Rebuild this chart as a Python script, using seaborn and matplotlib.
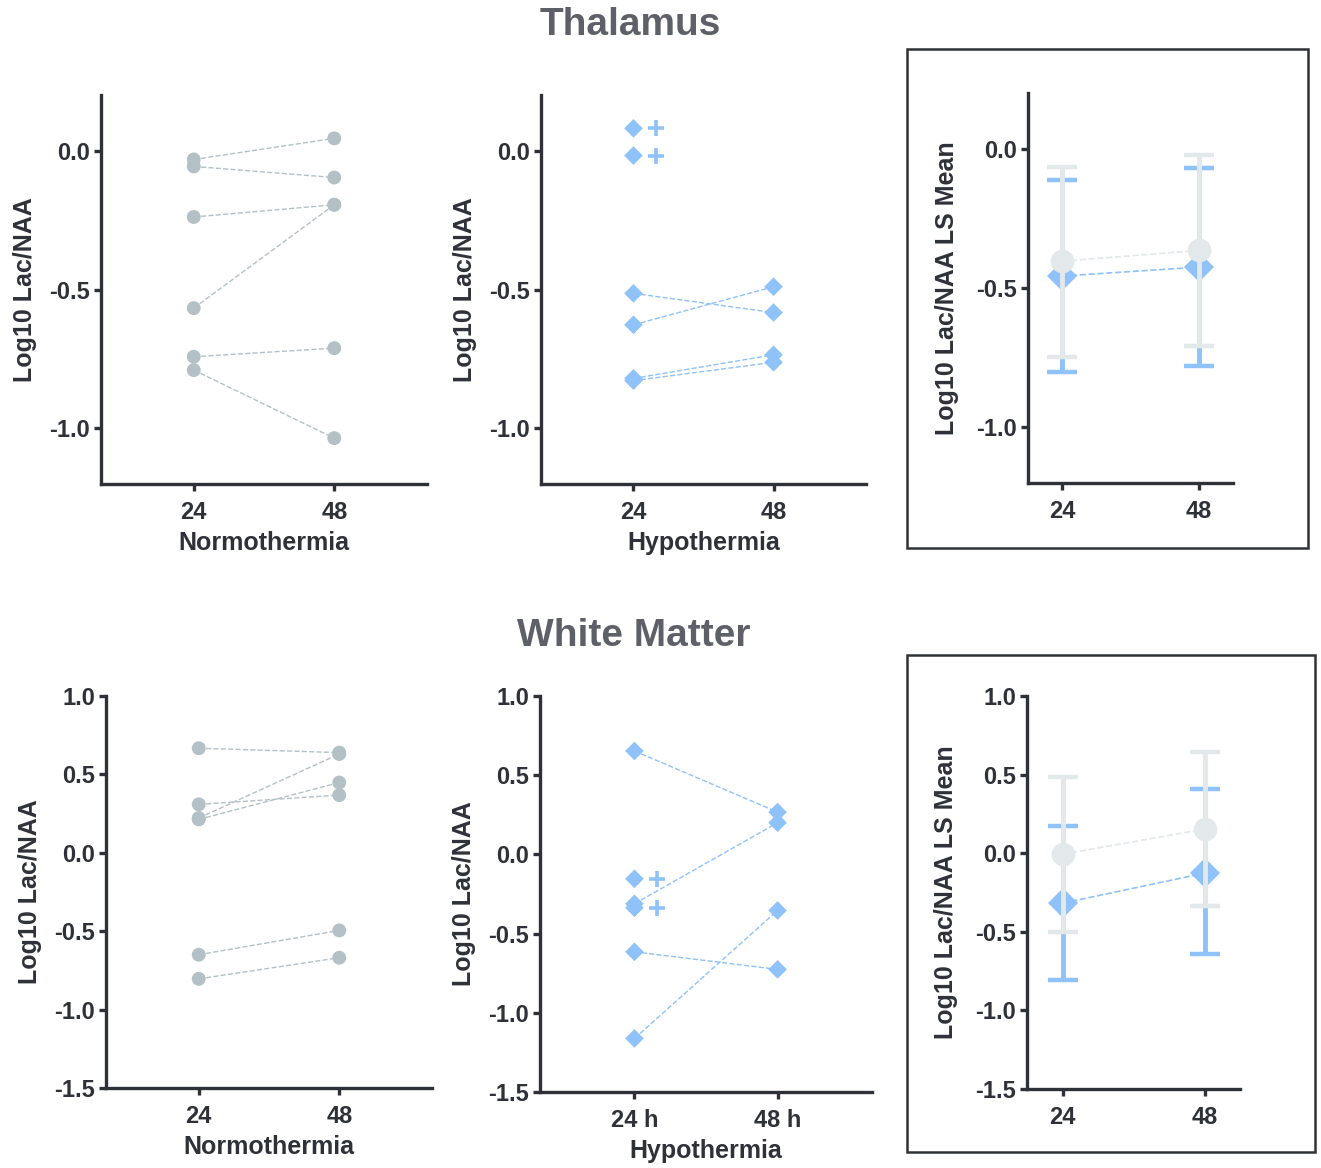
import matplotlib
matplotlib.use("Agg")
import matplotlib.pyplot as plt
import numpy as np
import pandas as pd
import seaborn as sns

# ---- data ----
timepoints = ["24", "48"]
timepoints_h = ["24 h", "48 h"]

# Thalamus, paired subjects
thal_normo_24 = [-0.032, -0.057, -0.239, -0.567, -0.742, -0.790]
thal_normo_48 = [0.044, -0.097, -0.195, -0.195, -0.711, -1.035]
thal_hypo_24 = [-0.514, -0.627, -0.820, -0.828]
thal_hypo_48 = [-0.583, -0.490, -0.735, -0.762]
thal_hypo_24_only = [0.080, -0.018]

# White matter, paired subjects
wm_normo_24 = [0.667, 0.309, 0.213, 0.222, -0.650, -0.804]
wm_normo_48 = [0.639, 0.368, 0.448, 0.630, -0.495, -0.669]
wm_hypo_24 = [0.653, -0.312, -0.615, -1.162]
wm_hypo_48 = [0.267, 0.200, -0.726, -0.354]
wm_hypo_24_only = [-0.154, -0.337]

# LS means with 95% CI
thal_normo_mean = [-0.404, -0.365]
thal_normo_lo = [-0.749, -0.708]
thal_normo_hi = [-0.064, -0.024]
thal_hypo_mean = [-0.457, -0.425]
thal_hypo_lo = [-0.801, -0.779]
thal_hypo_hi = [-0.113, -0.071]

wm_normo_mean = [-0.006, 0.153]
wm_normo_lo = [-0.499, -0.335]
wm_normo_hi = [0.482, 0.643]
wm_hypo_mean = [-0.318, -0.127]
wm_hypo_lo = [-0.809, -0.643]
wm_hypo_hi = [0.170, 0.407]

# ---- style ----
GREY = "#b3c1c6"
LIGHT = "#e3e8eb"
BLUE = "#8ec2f8"
DARK = "#2e3138"
TITLE = "#5d6066"

sns.set_style("ticks")
plt.rcParams["font.family"] = ["Liberation Sans", "DejaVu Sans"]
plt.rcParams["font.weight"] = "bold"
plt.rcParams["axes.unicode_minus"] = False

W, H = 1321, 1168
fig = plt.figure(figsize=(W / 100, H / 100), dpi=100)


def add_ax(x0, y0, x1, y1):
    # pixel box (top-left origin) -> figure fraction
    return fig.add_axes([x0 / W, 1 - y1 / H, (x1 - x0) / W, (y1 - y0) / H])


def paired_frame(v24, v48):
    n = len(v24)
    return pd.DataFrame({
        "subject": list(range(n)) * 2,
        "pos": [0] * n + [1] * n,
        "value": list(v24) + list(v48),
    })


def style_axis(ax, ylim, yticks, xlim, xlabels, xlabel, ylabel, labelpad):
    ax.set_xlim(*xlim)
    ax.set_ylim(*ylim)
    ax.set_yticks(yticks)
    ax.set_yticklabels([f"{t:.1f}" for t in yticks])
    ax.set_xticks([0, 1])
    ax.set_xticklabels(xlabels)
    sns.despine(ax=ax)
    for s in ["left", "bottom"]:
        ax.spines[s].set_linewidth(2.4)
        ax.spines[s].set_color(DARK)
    ax.tick_params(axis="both", width=2.4, length=5, color=DARK,
                   labelcolor=DARK, labelsize=17)
    ax.tick_params(axis="y", pad=3)
    ax.tick_params(axis="x", pad=7)
    ax.set_xlabel(xlabel, fontsize=18, fontweight="bold", color=DARK, labelpad=5)
    ax.set_ylabel(ylabel, fontsize=18, fontweight="bold", color=DARK, labelpad=labelpad)
    ax.set_facecolor("none")


def paired_panel(ax, v24, v48, color, marker, extra=None):
    df = paired_frame(v24, v48)
    sns.lineplot(data=df, x="pos", y="value", units="subject", estimator=None,
                 color=color, lw=1.0, ls="--", ax=ax, legend=False)
    ms = 100 if marker == "o" else 90
    sns.scatterplot(data=df, x="pos", y="value", color=color, marker=marker,
                    s=ms, edgecolor="none", ax=ax, legend=False, zorder=3)
    if extra is not None:
        ax.scatter([0] * len(extra), extra, color=color, marker=marker, s=ms,
                   edgecolor="none", zorder=3)
        ax.plot([0.16] * len(extra), extra, ls="none", marker="+", ms=11,
                mew=2.6, color=color)


def means_panel(ax, n_mean, n_lo, n_hi, h_mean, h_lo, h_hi):
    pos = [0, 1]
    h_err = [np.subtract(h_mean, h_lo), np.subtract(h_hi, h_mean)]
    n_err = [np.subtract(n_mean, n_lo), np.subtract(n_hi, n_mean)]
    ax.errorbar(pos, h_mean, yerr=h_err, fmt="none", ecolor=BLUE, elinewidth=3.5,
                capsize=11, capthick=3.2, zorder=2)
    hdf = pd.DataFrame({"pos": pos, "value": h_mean})
    sns.lineplot(data=hdf, x="pos", y="value", color=BLUE, lw=1.2, ls="--",
                 marker="D", markersize=15, markeredgewidth=0, ax=ax, zorder=3)
    ax.errorbar(pos, n_mean, yerr=n_err, fmt="none", ecolor=LIGHT, elinewidth=3.5,
                capsize=11, capthick=3.2, zorder=4)
    ndf = pd.DataFrame({"pos": pos, "value": n_mean})
    sns.lineplot(data=ndf, x="pos", y="value", color=LIGHT, lw=1.2, ls="--",
                 marker="o", markersize=17, markeredgewidth=0, ax=ax, zorder=5)


YLAB = "Log10 Lac/NAA"
YLAB_M = "Log10 Lac/NAA LS Mean"
thal_ticks = [0.0, -0.5, -1.0]
wm_ticks = [1.0, 0.5, 0.0, -0.5, -1.0, -1.5]

# ---- Thalamus row ----
ax = add_ax(101, 95, 427, 484)
paired_panel(ax, thal_normo_24, thal_normo_48, GREY, "o")
style_axis(ax, (-1.2, 0.2), thal_ticks, (-0.66, 1.66), timepoints,
           "Normothermia", YLAB, 9)

ax = add_ax(541, 95, 866, 484)
paired_panel(ax, thal_hypo_24, thal_hypo_48, BLUE, "D", thal_hypo_24_only)
style_axis(ax, (-1.2, 0.2), thal_ticks, (-0.66, 1.66), timepoints,
           "Hypothermia", YLAB, 9)

ax = add_ax(1028, 93, 1233, 483)
means_panel(ax, thal_normo_mean, thal_normo_lo, thal_normo_hi,
            thal_hypo_mean, thal_hypo_lo, thal_hypo_hi)
style_axis(ax, (-1.2, 0.2), thal_ticks, (-0.25, 1.25), timepoints, "", YLAB_M, 12)

# ---- White matter row ----
ax = add_ax(106, 696, 432, 1088)
paired_panel(ax, wm_normo_24, wm_normo_48, GREY, "o")
style_axis(ax, (-1.5, 1.0), wm_ticks, (-0.66, 1.66), timepoints,
           "Normothermia", YLAB, 9)

ax = add_ax(540, 696, 872, 1092)
paired_panel(ax, wm_hypo_24, wm_hypo_48, BLUE, "D", wm_hypo_24_only)
style_axis(ax, (-1.5, 1.0), wm_ticks, (-0.66, 1.66), timepoints_h,
           "Hypothermia", YLAB, 9)

ax = add_ax(1027, 696, 1240, 1089)
means_panel(ax, wm_normo_mean, wm_normo_lo, wm_normo_hi,
            wm_hypo_mean, wm_hypo_lo, wm_hypo_hi)
style_axis(ax, (-1.5, 1.0), wm_ticks, (-0.25, 1.25), timepoints, "", YLAB_M, 12)

# frames around the LS-mean panels
for (x0, y0, x1, y1) in [(907, 49, 1308, 548), (907, 655, 1315, 1152)]:
    fig.add_artist(plt.Rectangle((x0 / W, 1 - y1 / H), (x1 - x0) / W, (y1 - y0) / H,
                                 fill=False, lw=1.8, ec=DARK, transform=fig.transFigure))

fig.text(630 / W, 1 - 25 / H, "Thalamus", ha="center", va="center",
         fontsize=28, fontweight="bold", color=TITLE)
fig.text(634 / W, 1 - 636 / H, "White Matter", ha="center", va="center",
         fontsize=28, fontweight="bold", color=TITLE)

fig.savefig("out.png", dpi=100, facecolor="white")
